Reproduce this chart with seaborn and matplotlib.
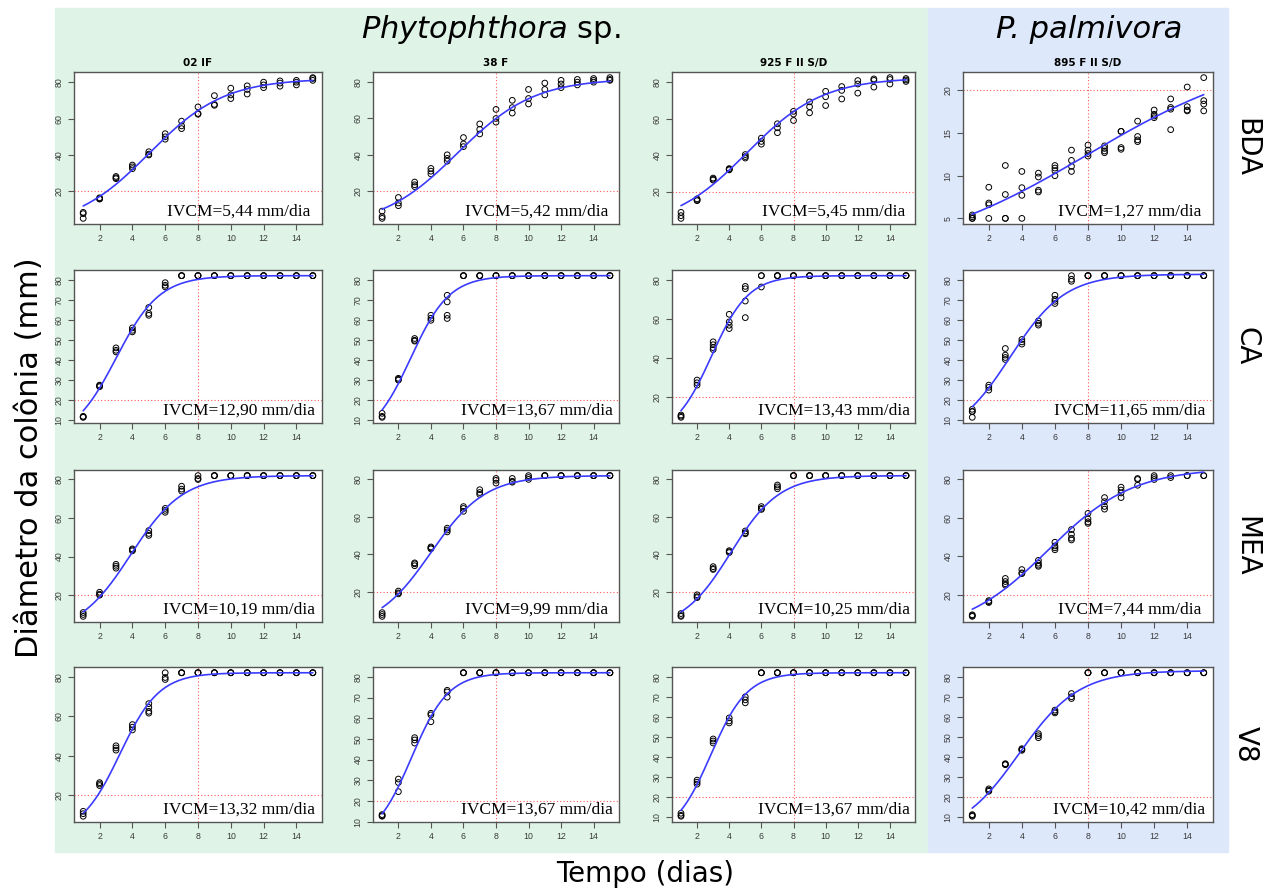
import numpy as np
import pandas as pd
import matplotlib
matplotlib.use("Agg")
import matplotlib.pyplot as plt
import matplotlib.transforms as mtransforms
from matplotlib.patches import Rectangle
import seaborn as sns

# ---------------------------------------------------------------------------
# Data: colony diameter (mm) per day, several replicate plates per day
# ---------------------------------------------------------------------------
dias = list(range(1, 16))
isolados = ["02 IF", "38 F", "925 F II S/D", "895 F II S/D"]
meios = ["BDA", "CA", "MEA", "V8"]

bda_02if = [[8.5, 7.8, 5.2], [16.5, 16.0, 15.8], [28.2, 27.5, 27.0], [34.5, 33.5, 32.5],
            [41.8, 40.5, 40.0], [51.7, 50.0, 48.7], [58.6, 56.0, 54.5], [66.4, 62.8, 62.4],
            [72.6, 67.8, 67.3], [76.7, 73.0, 71.0], [78.0, 76.0, 73.5], [80.0, 78.5, 77.0],
            [80.7, 79.5, 77.8], [81.0, 80.0, 78.5], [82.5, 82.0, 81.0]]
bda_38f = [[9.0, 6.0, 5.0], [16.5, 13.5, 12.0], [25.0, 23.5, 22.5], [32.5, 31.0, 29.5],
           [40.0, 38.0, 36.5], [49.5, 46.0, 44.5], [57.0, 54.0, 51.5], [65.0, 60.0, 58.0],
           [70.0, 66.0, 63.0], [76.0, 71.0, 68.0], [79.5, 76.0, 73.0], [81.0, 79.0, 77.0],
           [81.5, 80.0, 78.5], [82.0, 81.0, 80.0], [82.5, 81.5, 81.0]]
bda_925 = [[8.6, 6.8, 5.3], [16.0, 15.4, 15.0], [27.4, 26.8, 26.3], [32.6, 32.2, 31.9],
           [40.3, 39.2, 38.4], [49.3, 47.5, 46.0], [57.2, 55.0, 52.3], [64.0, 62.5, 59.0],
           [69.2, 66.5, 63.2], [75.0, 72.0, 67.2], [77.6, 75.5, 70.8], [80.9, 79.0, 74.0],
           [81.8, 81.0, 77.3], [82.5, 81.5, 79.0], [82.0, 81.2, 80.4]]
bda_895 = [[5.4, 5.2, 5.0, 5.0], [8.65, 6.8, 6.6, 5.0], [11.2, 7.8, 5.0, 5.0], [10.5, 8.6, 7.7, 5.0],
           [10.3, 9.85, 8.3, 8.1], [11.2, 10.9, 10.6, 10.0], [13.0, 11.8, 11.1, 10.5],
           [13.6, 13.0, 12.6, 12.3], [13.5, 13.2, 12.9, 12.7], [15.2, 15.2, 13.3, 13.1],
           [16.4, 14.6, 14.2, 14.0], [17.7, 17.2, 17.0, 16.8], [19.0, 18.0, 17.8, 15.4],
           [20.4, 18.1, 17.7, 17.6], [21.5, 18.8, 18.4, 17.6]]

ca_02if = [[12.0, 11.7, 11.5], [27.6, 27.2, 26.8], [46.2, 45.0, 44.2], [56.2, 55.0, 54.2],
           [66.4, 63.4, 62.5], [78.8, 77.5, 76.7]] + [[82.3, 82.3, 82.3]] * 9
ca_38f = [[13.5, 12.0, 11.5], [31.0, 30.5, 30.1], [50.9, 50.0, 49.6], [62.5, 61.0, 60.0],
          [72.5, 69.2, 62.5, 60.9]] + [[82.3, 82.3, 82.3]] * 10
ca_925 = [[11.0, 10.4, 9.8], [28.9, 27.5, 26.3], [48.5, 47.0, 45.5, 44.5], [62.6, 58.7, 57.0, 55.3],
          [76.9, 75.7, 69.4, 60.9], [82.4, 82.4, 76.6]] + [[82.4, 82.4, 82.4]] * 9
ca_895 = [[15.5, 14.5, 14.3, 11.5], [27.6, 26.5, 25.1], [45.9, 42.6, 41.4, 40.4], [50.4, 49.2, 48.1],
          [59.7, 58.5, 57.6], [72.5, 70.5, 69.5, 68.4], [82.3, 80.5, 79.5]] + [[82.3, 82.3, 82.3]] * 8

mea_02if = [[11.0, 10.0, 9.0], [21.5, 20.5, 20.0], [36.0, 35.0, 34.0], [44.0, 43.5, 43.0],
            [53.5, 52.0, 51.0], [65.0, 64.0, 63.0], [76.5, 75.0, 74.0], [82.0, 80.5, 80.0]] + [[82.0, 82.0, 82.0]] * 7
mea_38f = [[9.0, 8.0, 7.0], [20.5, 19.5, 19.0], [35.5, 35.0, 34.0], [44.0, 43.5, 43.0],
           [54.0, 53.0, 52.0], [65.5, 64.5, 63.0], [74.5, 73.0, 72.0], [80.5, 79.5, 78.0],
           [80.5, 79.0, 78.5], [82.0, 81.0, 80.0]] + [[82.0, 82.0, 82.0]] * 5
mea_925 = [[8.5, 7.5, 7.0], [18.5, 17.5, 17.0], [33.5, 32.5, 32.0], [42.0, 41.5, 41.0],
           [52.5, 51.5, 51.0], [65.5, 64.5, 64.0], [77.0, 76.0, 75.0]] + [[82.0, 82.0, 82.0]] * 8
mea_895 = [[9.7, 9.3, 8.9], [17.1, 16.5, 16.1], [28.6, 27.0, 25.8, 25.1], [33.2, 31.5, 31.1],
           [38.0, 36.5, 35.5, 34.9], [47.4, 45.5, 44.5, 43.5], [54.0, 51.5, 49.5, 48.6],
           [62.4, 59.5, 58.0, 57.2], [70.6, 68.5, 66.0, 64.6], [76.0, 74.5, 73.0, 70.6],
           [80.5, 80.0, 77.0], [82.0, 81.0, 80.0], [82.0, 81.0], [82.0, 82.0], [82.0, 82.0]]

v8_02if = [[12.0, 10.8, 9.5], [26.5, 25.8, 25.0], [45.1, 44.0, 42.9], [55.8, 54.5, 53.1],
           [66.4, 64.5, 62.5, 61.6], [82.0, 79.6, 78.6]] + [[82.0, 82.0, 82.0]] * 9
v8_38f = [[13.4, 12.9, 12.6], [30.6, 28.9, 24.5], [50.6, 49.5, 48.0], [62.4, 61.6, 58.3],
          [73.5, 72.7, 70.2]] + [[82.0, 82.0, 82.0]] * 10
v8_925 = [[12.0, 11.0, 10.5], [28.5, 27.5, 26.5], [49.0, 48.0, 47.0], [59.5, 58.0, 57.0],
          [70.0, 68.5, 67.0]] + [[82.0, 82.0, 82.0]] * 10
v8_895 = [[11.0, 10.6, 10.2], [23.9, 23.2, 22.7], [36.5, 36.2, 36.0], [44.0, 43.6, 43.2],
          [51.5, 50.5, 49.5], [63.3, 62.5, 61.9], [71.6, 70.0, 69.1]] + [[82.0, 82.0, 82.0]] * 8

dados = [[bda_02if, bda_38f, bda_925, bda_895],
         [ca_02if, ca_38f, ca_925, ca_895],
         [mea_02if, mea_38f, mea_925, mea_895],
         [v8_02if, v8_38f, v8_925, v8_895]]

# fitted logistic growth curves: (asymptote, rate, inflection day)
ajuste = [[(82.0, 0.437, 5.03), (82.0, 0.425, 5.64), (82.5, 0.425, 5.10), (25.0, 0.181, 8.0)],
          [(82.3, 0.756, 3.01), (82.3, 0.843, 2.76), (82.4, 0.870, 2.90), (83.0, 0.602, 3.28)],
          [(82.0, 0.630, 3.90), (82.0, 0.600, 4.00), (82.0, 0.660, 4.10), (86.0, 0.387, 5.55)],
          [(82.0, 0.833, 3.24), (82.0, 0.884, 2.81), (82.0, 0.880, 2.85), (83.0, 0.555, 3.83)]]

ivcm = [["5,44", "5,42", "5,45", "1,27"],
        ["12,90", "13,67", "13,43", "11,65"],
        ["10,19", "9,99", "10,25", "7,44"],
        ["13,32", "13,67", "13,67", "10,42"]]

passo_y = [[20, 20, 20, 5], [10, 10, 20, 10], [20, 20, 20, 20], [20, 10, 10, 10]]

# ---------------------------------------------------------------------------
# Figure layout (pixel geometry)
# ---------------------------------------------------------------------------
sns.set_style("ticks")
plt.rcParams["text.color"] = "black"
W, H = 1270, 892
fig = plt.figure(figsize=(W / 100, H / 100), dpi=100)
fig.patch.set_facecolor("white")

def fx(px):
    return px / W

def fy(py):
    return 1 - py / H

verde = "#dff4e7"
azul = "#dde8fb"
fig.patches.append(Rectangle((fx(55), fy(852)), fx(928 - 55), (852 - 8) / H,
                             transform=fig.transFigure, color=verde, zorder=-5))
fig.patches.append(Rectangle((fx(928), fy(852)), fx(1228 - 928), (852 - 8) / H,
                             transform=fig.transFigure, color=azul, zorder=-5))

col_left = [74, 373, 672, 963]
col_w = [248, 246, 243, 250]
row_top = [72, 270, 470, 667]
row_h = [152, 153, 152, 155]

frame_c = "#555555"
tick_c = "#3a3a3a"

for i in range(4):
    for j in range(4):
        ax = fig.add_axes([fx(col_left[j]), fy(row_top[i] + row_h[i]),
                           col_w[j] / W, row_h[i] / H])
        ax.set_facecolor("white")
        serie = dados[i][j]
        df = pd.DataFrame({"dia": [d for d, v in zip(dias, serie) for _ in v],
                           "diametro": [y for v in serie for y in v]})

        A, k, x0 = ajuste[i][j]
        xs = np.linspace(1, 15, 300)
        ys = A / (1 + np.exp(-k * (xs - x0)))

        ax.axhline(20, color="#ff3030", lw=0.8, ls=(0, (1, 2)), alpha=0.8, zorder=1)
        ax.axvline(8, color="#ff3030", lw=0.8, ls=(0, (1, 2)), alpha=0.8, zorder=1)
        sns.scatterplot(data=df, x="dia", y="diametro", ax=ax, marker="o", s=17,
                        facecolor="none", edgecolor="black", linewidth=0.7, zorder=3)
        sns.lineplot(x=xs, y=ys, ax=ax, color="#3b3bff", lw=1.2, zorder=4)

        # R-style axis ranges (4% padding around the data)
        ymin, ymax = df["diametro"].min(), df["diametro"].max()
        pad = 0.04 * (ymax - ymin)
        ax.set_xlim(1 - 0.04 * 14, 15 + 0.04 * 14)
        ax.set_ylim(ymin - pad, ymax + pad)
        st = passo_y[i][j]
        ax.set_yticks(np.arange(st, ymax + pad, st))
        ax.set_xticks(np.arange(2, 15, 2))
        ax.set_xlabel("")
        ax.set_ylabel("")
        for sp in ax.spines.values():
            sp.set_color(frame_c)
            sp.set_linewidth(1.0)
            sp.set_visible(True)
        ax.tick_params(axis="both", length=4.5, width=0.8, color=frame_c,
                       labelsize=6.3, labelcolor=tick_c, pad=3)
        for lab in ax.get_yticklabels():
            lab.set_rotation(90)
            lab.set_va("center")
        for lab in ax.get_xticklabels() + ax.get_yticklabels():
            lab.set_family("Liberation Sans")

        tr = mtransforms.blended_transform_factory(ax.transData, ax.transAxes)
        ax.text(10.5, 0.055, f"IVCM={ivcm[i][j]} mm/dia", transform=tr,
                ha="center", va="baseline", fontsize=12.5,
                family="Liberation Serif", color="black", zorder=5)

        if i == 0:
            ax.set_title(isolados[j], fontsize=7.5, fontweight="bold",
                         family="DejaVu Sans", pad=4, color="black")

# group headers
fig.text(fx(491), fy(30), r"$\it{Phytophthora}$ sp.", ha="center", va="center",
         fontsize=22, family="DejaVu Sans", color="black")
fig.text(fx(1089), fy(30), "P. palmivora", ha="center", va="center",
         fontsize=22, family="DejaVu Sans", style="italic", color="black")

# culture medium labels on the right
for i, m in enumerate(meios):
    fig.text(fx(1246), fy(row_top[i] + row_h[i] / 2), m, rotation=-90,
             ha="center", va="center", fontsize=20, family="DejaVu Sans", color="black")

fig.text(fx(30), fy(458), "Diâmetro da colônia (mm)", rotation=90,
         ha="center", va="center", fontsize=22, family="DejaVu Sans", color="black")
fig.text(fx(645), fy(874), "Tempo (dias)", ha="center", va="center",
         fontsize=20, family="DejaVu Sans", color="black")

fig.savefig("out.png", dpi=100)
